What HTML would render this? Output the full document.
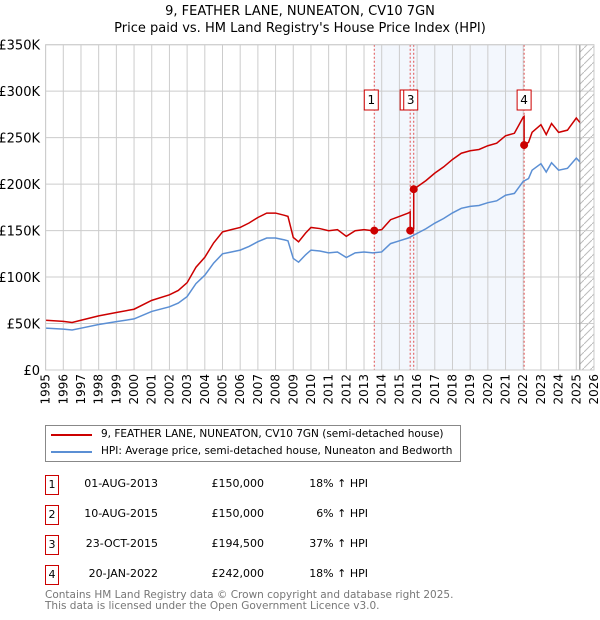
<!DOCTYPE html>
<html><head><meta charset="utf-8">
<style>
body{margin:0;background:#fff;font-family:"DejaVu Sans","Liberation Sans",sans-serif;}
#wrap{position:relative;width:600px;height:620px;overflow:hidden;}
.t{position:absolute;font-size:11px;color:#000;white-space:nowrap;}
.box{position:absolute;width:12px;height:18px;border:1px solid #c00;font-size:11px;text-align:center;line-height:18px;}
</style></head><body>
<div id="wrap">
<div class="t" style="left:0;width:600px;text-align:center;top:3px;font-size:13px;line-height:17px">9, FEATHER LANE, NUNEATON, CV10 7GN<br>Price paid vs. HM Land Registry's House Price Index (HPI)</div>
<svg id="chart" width="600" height="420" style="position:absolute;left:0;top:0"></svg>
<div style="position:absolute;left:45px;top:425px;width:414px;height:35px;border:1px solid #888;">
 <div style="position:absolute;left:5px;top:8px;width:41px;height:2px;background:#cc0000"></div>
 <div class="t" style="left:55px;top:2px;font-size:10.5px">9, FEATHER LANE, NUNEATON, CV10 7GN (semi-detached house)</div>
 <div style="position:absolute;left:5px;top:25px;width:41px;height:2px;background:#5b8fd4"></div>
 <div class="t" style="left:55px;top:19px;font-size:10.5px">HPI: Average price, semi-detached house, Nuneaton and Bedworth</div>
</div>
<div id="table"></div>
<div class="t" style="left:45px;top:590px;color:#777;line-height:11px;font-size:10.5px">Contains HM Land Registry data © Crown copyright and database right 2025.<br>This data is licensed under the Open Government Licence v3.0.</div>
</div>
<script>
const hpiYears=[1995,1996,1996.5,1997,1998,1999,2000,2001,2002,2002.5,2003,2003.5,2004,2004.5,2005,2005.5,2006,2006.5,2007,2007.5,2008,2008.5,2008.7,2009,2009.3,2009.7,2010,2010.5,2011,2011.5,2012,2012.5,2013,2013.5,2014,2014.5,2015,2015.5,2016,2016.5,2017,2017.5,2018,2018.5,2019,2019.5,2020,2020.5,2021,2021.5,2022,2022.3,2022.5,2023,2023.3,2023.6,2024,2024.5,2025,2025.2];
const hpiValues=[45,44,43,45,49,52,55,63,68,72,79,93,102,115,125,127,129,133,138,142,142,140,139,120,116,124,129,128,126,127,121,126,127,126,127,136,139,142,147,152,158,163,169,174,176,177,180,182,188,190,203,206,215,222,213,223,215,217,228,224];
const saleDates=[2013.58,2015.61,2015.81,2022.05];
const salePrices=[150,150,194.5,242];
const saleLabels=["1","2","3","4"];
const saleDateText=["01-AUG-2013","10-AUG-2015","23-OCT-2015","20-JAN-2022"];
const salePriceText=["£150,000","£150,000","£194,500","£242,000"];
const saleHpiText=["18% ↑ HPI","6% ↑ HPI","37% ↑ HPI","18% ↑ HPI"];
const yTicks=[0,50,100,150,200,250,300,350];
const yTickLabels=["£0","£50K","£100K","£150K","£200K","£250K","£300K","£350K"];

const X0=45.6,YR=17.69,Y0=370,YT=44.7;
const x=y=>X0+(y-1995)*YR;
const yv=v=>Y0-v/350*(Y0-YT);
const svg=document.getElementById('chart');
const NS="http://www.w3.org/2000/svg";
function mk(t,a,name){const e=document.createElementNS(NS,t);for(const k in a)e.setAttribute(k,a[k]);


svg.appendChild(e);return e;}
function hpiAt(t){for(let i=0;i<hpiYears.length-1;i++){if(t<=hpiYears[i+1]){const f=(t-hpiYears[i])/(hpiYears[i+1]-hpiYears[i]);return hpiValues[i]+f*(hpiValues[i+1]-hpiValues[i]);}}return hpiValues[hpiValues.length-1];}
mk('rect',{x:x(saleDates[0]),y:YT,width:x(saleDates[3])-x(saleDates[0]),height:Y0-YT,fill:'#eef3fc',opacity:0.7},'sale-period-shade');
const defs=mk('defs',{},'defs');
defs.innerHTML='<pattern id="h" width="8" height="8" patternUnits="userSpaceOnUse"><path d="M0,8 L8,0" stroke="#bbb" stroke-width="1"/></pattern>';
mk('rect',{x:x(2025.2),y:YT,width:x(2026)-x(2025.2),height:Y0-YT,fill:'url(#h)'},'future-hatch');
for(let yr=1995;yr<=2026;yr++){mk('line',{x1:x(yr),x2:x(yr),y1:YT,y2:Y0,stroke:'#ccc','stroke-width':1},'x-grid-line');
const tx=mk('text',{x:0,y:0,transform:`translate(${x(yr)+4},${Y0+4}) rotate(-90)`,'text-anchor':'end','font-size':12,'font-family':'DejaVu Sans, sans-serif'},'x-tick-label');tx.textContent=yr;}
yTicks.forEach((v,i)=>{mk('line',{x1:X0,x2:x(2026),y1:yv(v),y2:yv(v),stroke:'#ccc','stroke-width':1},'y-grid-line');
const tx=mk('text',{x:40,y:yv(v)+5,'text-anchor':'end','font-size':13,'font-family':'DejaVu Sans, sans-serif'},'y-tick-label');tx.textContent=yTickLabels[i];});
mk('line',{x1:x(2025.2),x2:x(2025.2),y1:YT,y2:Y0,stroke:'#888','stroke-width':1},'today-line');
saleDates.forEach(d=>mk('line',{x1:x(d),x2:x(d),y1:YT,y2:Y0,stroke:'#e05050','stroke-width':1,'stroke-dasharray':'2,2'},'sale-marker-line'));
mk('polyline',{points:hpiYears.map((t,i)=>x(t)+','+yv(hpiValues[i])).join(' '),fill:'none',stroke:'#5b8fd4','stroke-width':1.5},'hpi-line');
const ratios=saleDates.map((d,i)=>salePrices[i]/hpiAt(d));
function ratioAt(t){let r=ratios[0];for(let i=0;i<saleDates.length;i++)if(t>=saleDates[i])r=ratios[i];return r;}
let ts=hpiYears.concat(saleDates.flatMap(d=>[d-0.001,d])).sort((a,b)=>a-b);
mk('polyline',{points:ts.map(t=>x(t)+','+yv(hpiAt(t)*ratioAt(t))).join(' '),fill:'none',stroke:'#cc0000','stroke-width':1.5},'property-line');
saleDates.forEach((d,i)=>mk('circle',{cx:x(d),cy:yv(salePrices[i]),r:4,fill:'#cc0000'},'sale-point'));
mk('rect',{x:X0,y:YT,width:x(2026)-X0,height:Y0-YT,fill:'none',stroke:'#ccc'},'plot-border');
const boxOff=[-3,-3,-3,0];
saleDates.forEach((d,i)=>{const bx=x(d)+boxOff[i]-7;
mk('rect',{x:bx,y:90,width:14,height:20,fill:'#fff',stroke:'#c00'},'sale-label-box');
const tx=mk('text',{x:bx+7,y:104,'text-anchor':'middle','font-size':12,'font-family':'DejaVu Sans, sans-serif'},'sale-label');tx.textContent=saleLabels[i];});
const tb=document.getElementById('table');
saleLabels.forEach((l,i)=>{const top=475+i*30;
tb.insertAdjacentHTML('beforeend',`<div class="box" style="left:45px;top:${top}px">${l}</div>
<div class="t" style="left:80px;width:78px;text-align:right;top:${top+2}px">${saleDateText[i]}</div>
<div class="t" style="left:200px;width:64px;text-align:right;top:${top+2}px">${salePriceText[i]}</div>
<div class="t" style="left:300px;width:68px;text-align:right;top:${top+2}px">${saleHpiText[i]}</div>`);});
</script>
</body></html>
